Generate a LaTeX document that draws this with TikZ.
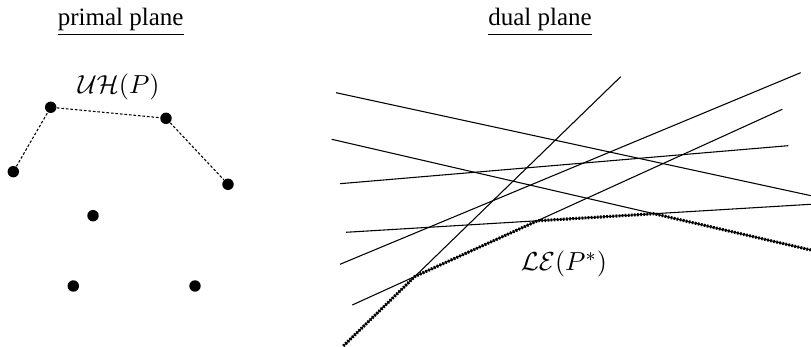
\documentclass[tikz,border=0pt]{standalone}
\usepackage{fontspec}
\setmainfont{Liberation Serif}
\begin{document}
\begin{tikzpicture}[x=0.42pt,y=-0.42pt,
  pt/.style={circle,fill=black,inner sep=0pt,minimum size=4.8pt},
  hull/.style={line width=0.45pt,dash pattern=on 1.1pt off 0.8pt},
  dline/.style={line width=0.45pt},
  env/.style={line width=1.3pt,dash pattern=on 0.7pt off 0.6pt},
  title/.style={font=\fontsize{10.5}{12}\selectfont},
  lbl/.style={font=\fontsize{10.8}{12}\selectfont}]
\useasboundingbox (0,0) rectangle (811,347);
% titles
\node[title] (tp) at (120.7,22) {\underline{primal plane}};
\node[title] (td) at (540,22) {\underline{dual plane}};
% primal points
\node[pt] (p1) at (13.3,171.7) {};
\node[pt] (p2) at (50.7,107.3) {};
\node[pt] (p3) at (166,118.3) {};
\node[pt] (p4) at (228,184.3) {};
\node[pt] (p5) at (93,215.7) {};
\node[pt] (p6) at (73.3,286) {};
\node[pt] (p7) at (195,286) {};
\draw[hull] (p1) -- (p2) -- (p3) -- (p4);
\node[lbl] (uh) at (118.7,87) {$\mathcal{U}\mathcal{H}(P)$};
% dual lines
\coordinate (a1) at (336,92.7);   \coordinate (a2) at (811,195.7);
\coordinate (b1) at (331.7,139.3); \coordinate (b2) at (811,250);
\coordinate (c1) at (340,183.7);  \coordinate (c2) at (788.3,145.7);
\coordinate (d1) at (346,232.3);  \coordinate (d2) at (811,204.3);
\coordinate (e1) at (340,264.3);  \coordinate (e2) at (800.7,72.7);
\coordinate (f1) at (352.3,305);  \coordinate (f2) at (782.3,109.3);
\coordinate (g1) at (620.7,76.7); \coordinate (g2) at (343.3,346);
\draw[dline] (a1) -- (a2);
\draw[dline] (b1) -- (b2);
\draw[dline] (c1) -- (c2);
\draw[dline] (d1) -- (d2);
\draw[dline] (e1) -- (e2);
\draw[dline] (f1) -- (f2);
\draw[dline] (g1) -- (g2);
% lower envelope
\coordinate (gf) at (intersection of g1--g2 and f1--f2);
\coordinate (fd) at (intersection of f1--f2 and d1--d2);
\coordinate (db) at (intersection of d1--d2 and b1--b2);
\draw[env] (g2) -- (gf) -- (fd) -- (db) -- (b2);
\node[lbl] (le) at (564,264) {$\mathcal{L}\mathcal{E}(P^*)$};
\end{tikzpicture}
\end{document}
